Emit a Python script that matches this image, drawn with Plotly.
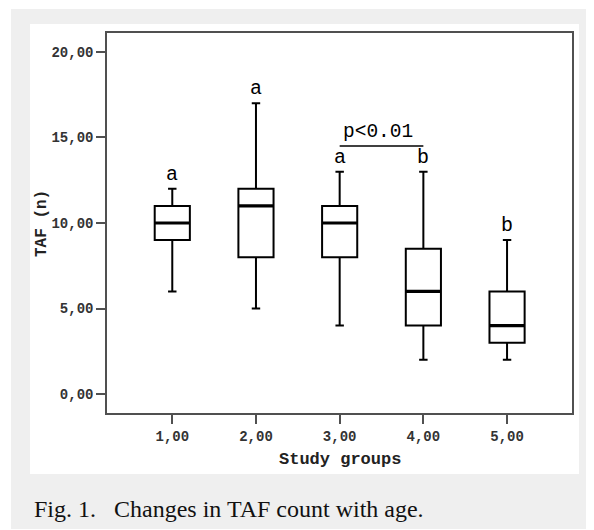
import plotly.graph_objects as go

# ---- data ----
groups = [1, 2, 3, 4, 5]
lower_whisker = [6, 5, 4, 2, 2]
q1_vals = [9, 8, 8, 4, 3]
median_vals = [10, 11, 10, 6, 4]
q3_vals = [11, 12, 11, 8.5, 6]
upper_whisker = [12, 17, 13, 13, 9]
group_letters = ["a", "a", "a", "b", "b"]

x_tickvals = [1, 2, 3, 4, 5]
x_ticktext = ["1,00", "2,00", "3,00", "4,00", "5,00"]
y_tickvals = [0, 5, 10, 15, 20]
y_ticktext = ["0,00", "5,00", "10,00", "15,00", "20,00"]

sig_groups = [3, 4]
sig_level = 14.5
sig_text = "p&lt;0.01"

BOX_W = 0.42
MONO = "Courier New, Liberation Mono, Courier, monospace"

# page has an 8px body margin; figure placed so plot frame is at (107..572, 33..413)
OFF = 8
W, H = 594 - OFF, 530 - OFF
ML, MT, MR, MB = 107 - OFF, 33 - OFF, 594 - 572, 530 - 413
PW, PH = W - ML - MR, H - MT - MB


def px_x(p):
    return (p - OFF - ML) / PW


def px_y(p):
    return (H - MB - (p - OFF)) / PH


fig = go.Figure()
fig.add_trace(go.Box(
    x=groups, q1=q1_vals, median=median_vals, q3=q3_vals,
    lowerfence=lower_whisker, upperfence=upper_whisker,
    width=BOX_W, whiskerwidth=0.24,
    fillcolor="white", line=dict(color="black", width=2),
    boxpoints=False, showlegend=False, hoverinfo="skip",
))

shapes = []
shapes.append(dict(type="rect", xref="paper", yref="paper", x0=px_x(11), x1=px_x(600),
                   y0=px_y(529), y1=px_y(9), fillcolor="#efefef", line_width=0, layer="below"))
shapes.append(dict(type="rect", xref="paper", yref="paper", x0=px_x(30), x1=px_x(579),
                   y0=px_y(474), y1=px_y(24), fillcolor="white", line_width=0, layer="below"))
for g, m in zip(groups, median_vals):
    shapes.append(dict(type="line", xref="x", yref="y", x0=g - BOX_W / 2, x1=g + BOX_W / 2,
                       y0=m, y1=m, line=dict(color="black", width=3.2)))
shapes.append(dict(type="line", xref="x", yref="y", x0=sig_groups[0], x1=sig_groups[1],
                   y0=sig_level, y1=sig_level, line=dict(color="black", width=1.5)))

annotations = []
for g, u, t in zip(groups, upper_whisker, group_letters):
    annotations.append(dict(x=g, y=u, text=t, showarrow=False, xanchor="center",
                            yanchor="bottom", yshift=1,
                            font=dict(family=MONO, size=20, color="black")))
annotations.append(dict(x=(sig_groups[0] + sig_groups[1]) / 2 - 0.04, y=sig_level,
                        text=sig_text, showarrow=False, xanchor="center", yanchor="bottom",
                        yshift=1, font=dict(family=MONO, size=19.5, color="black")))
annotations.append(dict(xref="paper", yref="paper", x=px_x(42), y=px_y(224), text="<b>TAF (n)</b>",
                        textangle=-90, showarrow=False, xanchor="center", yanchor="middle",
                        font=dict(family=MONO, size=16, color="#222")))
annotations.append(dict(xref="paper", yref="paper", x=px_x(339.5), y=px_y(459), text="<b>Study groups</b>",
                        showarrow=False, xanchor="center", yanchor="middle",
                        font=dict(family=MONO, size=17, color="#222")))
annotations.append(dict(xref="paper", yref="paper", x=px_x(32), y=px_y(509),
                        text="Fig. 1.\u00a0\u00a0\u00a0Changes in TAF count with age.",
                        showarrow=False, xanchor="left", yanchor="middle",
                        font=dict(family="Liberation Serif, Times New Roman, serif", size=24, color="#111")))

axis_common = dict(showline=True, linecolor="#505050", linewidth=1.5, mirror=True,
                   ticks="outside", ticklen=9, tickwidth=1.5, tickcolor="#505050",
                   showgrid=False, zeroline=False,
                   tickfont=dict(family=MONO, size=14, color="#333", weight="bold"))

fig.update_layout(
    width=W, height=H,
    margin=dict(l=ML, r=MR, t=MT, b=MB),
    paper_bgcolor="white", plot_bgcolor="white",
    xaxis=dict(range=[0.22, 5.776], tickvals=x_tickvals, ticktext=x_ticktext, **axis_common),
    yaxis=dict(range=[-1.11, 21.11], tickvals=y_tickvals, ticktext=y_ticktext, **axis_common),
    shapes=shapes, annotations=annotations,
)

fig.write_html("out.html")
